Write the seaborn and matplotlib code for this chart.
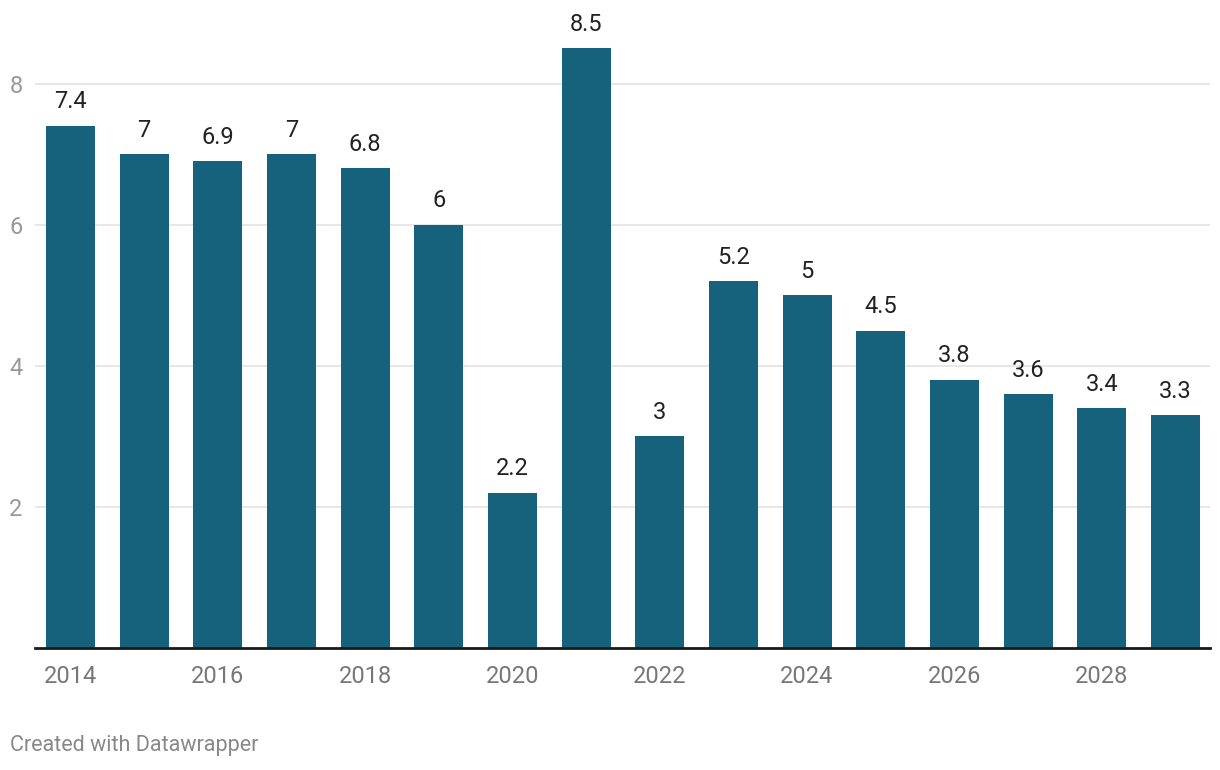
import matplotlib
matplotlib.use("Agg")
import matplotlib.pyplot as plt
import seaborn as sns
import pandas as pd

years = [str(y) for y in range(2014, 2030)]
values = [7.4, 7, 6.9, 7, 6.8, 6, 2.2, 8.5, 3, 5.2, 5, 4.5, 3.8, 3.6, 3.4, 3.3]
labels = ["7.4", "7", "6.9", "7", "6.8", "6", "2.2", "8.5", "3", "5.2", "5", "4.5", "3.8", "3.6", "3.4", "3.3"]
yticks = [2, 4, 6, 8]

sns.set_theme(style="white")
plt.rcParams["font.family"] = ["Roboto", "DejaVu Sans"]

df = pd.DataFrame({"year": years, "value": values})

fig = plt.figure(figsize=(12.2, 7.7), dpi=100)
ax = fig.add_axes([35 / 1220, 1 - 648 / 770, 1175 / 1220, 608 / 770])

sns.barplot(data=df, x="year", y="value", order=years, color="#16617b",
            saturation=1, width=0.665, ax=ax, zorder=3, linewidth=0, edgecolor="none")

ax.bar_label(ax.containers[0], labels=labels, padding=9, fontsize=17, color="#222222")

ax.set_xlim(-0.48, len(years) - 1 + 0.47)
ax.set_ylim(0, 608 / 70.55)
ax.set_yticks(yticks)
ax.set_yticklabels([str(t) for t in yticks])
ax.yaxis.grid(True, color="#e3e3e3", linewidth=1.2, zorder=0)
ax.set_axisbelow(True)
ax.set_xticks(range(0, len(years), 2))
ax.set_xticklabels(years[::2])
ax.tick_params(axis="x", length=0, pad=12, labelsize=17, labelcolor="#777777")
ax.tick_params(axis="y", length=0, pad=9, labelsize=17, labelcolor="#999999")
ax.set_xlabel("")
ax.set_ylabel("")
for s in ["top", "right", "left"]:
    ax.spines[s].set_visible(False)
ax.spines["bottom"].set_color("#1a1a1a")
ax.spines["bottom"].set_linewidth(2)
ax.spines["bottom"].set_zorder(4)

fig.text(10 / 1220, 1 - 746 / 770, "Created with Datawrapper", fontsize=15.5,
         color="#888888", va="center", ha="left")

fig.savefig("out.png", dpi=100)
